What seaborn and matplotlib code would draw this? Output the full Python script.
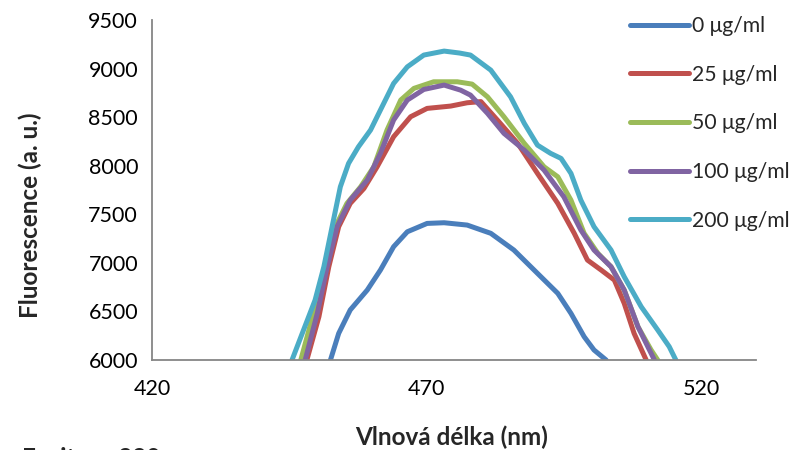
import matplotlib
matplotlib.use("Agg")
import matplotlib.pyplot as plt
import seaborn as sns
import pandas as pd

labels = ["0 μg/ml", "25 μg/ml", "50 μg/ml", "100 μg/ml", "200 μg/ml"]
colors = ["#4A7EBB", "#C0504D", "#9BBB59", "#8064A2", "#4BACC6"]

x0 = [451.9, 452.5, 454.0, 456.1, 459.2, 461.6, 464.0, 466.5, 470.1, 473.2, 477.4, 481.7, 485.9,
      490.2, 493.9, 496.3, 498.7, 500.5, 502.7, 503.4]
y0 = [5850, 6000, 6274, 6515, 6720, 6926, 7166, 7320, 7406, 7413, 7389, 7304, 7132,
      6892, 6686, 6480, 6240, 6103, 6000, 5900]

x25 = [447.8, 448.2, 450.4, 452.2, 454.0, 456.1, 458.6, 461.0, 464.0, 467.1, 470.1, 474.4, 477.4, 479.9,
       482.9, 486.6, 490.2, 493.9, 496.9, 499.3, 501.8, 504.2, 506.0, 507.8, 510.0, 510.5]
y25 = [5850, 6000, 6446, 6960, 7372, 7612, 7766, 7989, 8298, 8504, 8590, 8614, 8648, 8660,
       8470, 8230, 7921, 7612, 7304, 7029, 6926, 6823, 6583, 6274, 6000, 5850]

x50 = [446.7, 447.1, 449.4, 451.3, 453.1, 455.5, 458.0, 460.4, 462.8, 465.3, 467.7, 471.3, 475.6, 478.3,
       481.1, 484.1, 487.8, 491.4, 493.9, 496.3, 498.7, 501.2, 503.6, 506.0, 508.5, 510.9, 512.1, 512.6]
y50 = [5850, 6000, 6480, 6892, 7338, 7612, 7783, 7989, 8367, 8676, 8796, 8864, 8864, 8840,
       8709, 8504, 8230, 7989, 7886, 7646, 7304, 7098, 6960, 6720, 6343, 6103, 6000, 5850]

x100 = [447.5, 447.9, 450.1, 451.9, 453.7, 456.1, 459.2, 461.6, 464.0, 466.5, 469.5, 473.2, 476.2, 478.0,
        481.1, 484.1, 487.8, 491.4, 495.0, 498.1, 500.5, 503.6, 506.0, 508.5, 510.3, 511.5, 512.0]
y100 = [5850, 6000, 6480, 6960, 7372, 7646, 7852, 8127, 8470, 8676, 8785, 8830, 8778, 8727,
        8539, 8333, 8161, 7955, 7680, 7338, 7132, 6960, 6720, 6343, 6137, 6000, 5850]

x200 = [445.0, 445.5, 447.6, 449.7, 451.3, 452.8, 454.3, 455.8, 457.6, 459.8, 461.6, 464.0, 466.5, 469.5,
        473.2, 476.0, 478.0, 481.7, 485.3, 487.8, 490.2, 492.6, 494.5, 496.3, 498.1, 500.5, 503.6, 506.0,
        509.1, 512.1, 514.2, 515.4, 516.0]
y200 = [5850, 6000, 6309, 6617, 6960, 7372, 7783, 8024, 8195, 8367, 8573, 8847, 9018, 9139,
        9180, 9160, 9139, 8984, 8709, 8436, 8212, 8127, 8075, 7921, 7646, 7372, 7132, 6857,
        6548, 6309, 6137, 6000, 5850]

xticks = [420, 470, 520]
yticks = [6000, 6500, 7000, 7500, 8000, 8500, 9000, 9500]

series = [(labels[0], x0, y0), (labels[1], x25, y25), (labels[2], x50, y50),
          (labels[3], x100, y100), (labels[4], x200, y200)]
frames = []
for lab, xs, ys in series:
    frames.append(pd.DataFrame({"wl": xs, "fl": ys, "conc": lab}))
df = pd.concat(frames, ignore_index=True)

sns.set_style("white")
plt.rcParams["font.family"] = ["Lato", "DejaVu Sans"]

fig = plt.figure(figsize=(8.06, 4.5), dpi=100)
ax = fig.add_axes([152 / 806, 90 / 450, (756 - 152) / 806, 340 / 450])

sns.lineplot(data=df, x="wl", y="fl", hue="conc", hue_order=labels,
             palette=dict(zip(labels, colors)), sort=False, estimator=None,
             linewidth=3.6, ax=ax, legend=True)
for ln in ax.lines:
    ln.set_solid_capstyle("round")
    ln.set_solid_joinstyle("round")

ax.set_xlim(420, 530)
ax.set_ylim(6000, 9500)
ax.set_xticks(xticks)
ax.set_yticks(yticks)
ax.tick_params(axis="both", labelsize=15.5, colors="#868686", length=6, width=1.3,
               direction="out", labelcolor="black", pad=4)
ax.tick_params(axis="x", pad=8)
for side in ["top", "right"]:
    ax.spines[side].set_visible(False)
for side in ["left", "bottom"]:
    ax.spines[side].set_color("#868686")
    ax.spines[side].set_linewidth(1.3)

ax.set_xlabel("")
ax.set_ylabel("")
fig.text(452 / 806, 1 - 437 / 450, "Vlnová délka (nm)", fontsize=17.5, fontweight="bold",
         ha="center", va="center")
fig.text(30 / 806, 1 - 215 / 450, "Fluorescence (a. u.)", fontsize=17.5, fontweight="bold",
         ha="center", va="center", rotation=90)

handles, labs = ax.get_legend_handles_labels()
for h in handles:
    h.set_linewidth(3.6)
    h.set_solid_capstyle("round")
leg = fig.legend(handles, labs, loc="upper left", bbox_to_anchor=(630 / 806, 1 - 16 / 450),
                 frameon=False, fontsize=15.2, handlelength=2.8, handletextpad=0.12,
                 labelspacing=1.36, borderpad=0, borderaxespad=0)
ax.get_legend().remove()

fig.text(22 / 806, 1 - 447 / 450, "Excitace 380", fontsize=17.5, fontweight="bold", va="top", ha="left")

fig.savefig("out.png", dpi=100)
